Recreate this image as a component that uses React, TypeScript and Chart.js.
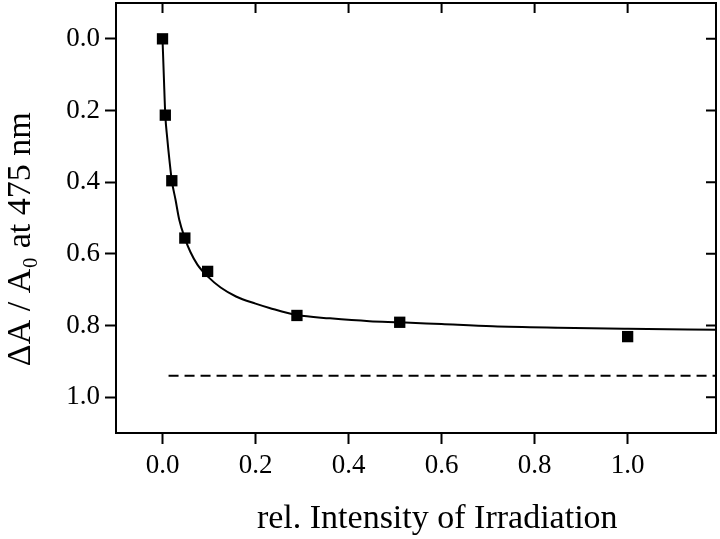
import React, { useEffect, useRef } from "react";
import { Chart, registerables } from "chart.js";

Chart.register(...registerables);

// Measured points
const pointX = [0, 0.006, 0.02, 0.048, 0.097, 0.289, 0.51, 1.0];
const pointY = [0.0, 0.213, 0.396, 0.556, 0.649, 0.772, 0.791, 0.831];

// Fitted curve
const curveX = [0, 0.003, 0.006, 0.01, 0.015, 0.02, 0.028, 0.036, 0.048, 0.06, 0.075, 0.097, 0.125, 0.158, 0.2, 0.23, 0.289, 0.36, 0.445, 0.51, 0.6, 0.71, 0.85, 1.0, 1.19];
const curveY = [0, 0.11, 0.213, 0.275, 0.34, 0.396, 0.449, 0.505, 0.556, 0.595, 0.63, 0.663, 0.694, 0.719, 0.739, 0.751, 0.771, 0.78, 0.788, 0.791, 0.796, 0.802, 0.806, 0.809, 0.812];

// Dashed limit line
const limitX = [0.013, 1.19];
const limitY = [0.94, 0.94];

// Ticks
const xTicks = [0, 0.2, 0.4, 0.6, 0.8, 1.0];
const yTicks = [0, 0.2, 0.4, 0.6, 0.8, 1.0];

const NB = "\u00A0";
const xTitle = NB.repeat(5) + "rel. Intensity of Irradiation";
const yTitle = "ΔA / A₀ at 475 nm" + NB.repeat(5);

const FONT = "'Liberation Serif', 'Times New Roman', serif";

const framePlugin = {
  id: "frame",
  afterDatasetsDraw(chart: any) {
    const { ctx, chartArea: a, scales } = chart;
    ctx.save();
    ctx.strokeStyle = "#000";
    ctx.lineWidth = 2;
    ctx.beginPath();
    ctx.moveTo(a.left, a.top);
    ctx.lineTo(a.right, a.top);
    ctx.lineTo(a.right, a.bottom);
    for (const v of xTicks) {
      const px = scales.x.getPixelForValue(v);
      ctx.moveTo(px, a.top);
      ctx.lineTo(px, a.top + 10);
    }
    for (const v of yTicks) {
      const py = scales.y.getPixelForValue(v);
      ctx.moveTo(a.right, py);
      ctx.lineTo(a.right - 10, py);
    }
    ctx.stroke();
    ctx.restore();
  },
};

export default function App() {
  const ref = useRef<HTMLCanvasElement>(null);

  useEffect(() => {
    if (!ref.current) return;
    const chart = new Chart(ref.current, {
      type: "scatter",
      data: {
        datasets: [
          {
            type: "line",
            data: curveX.map((x, i) => ({ x, y: curveY[i] })),
            borderColor: "#000",
            borderWidth: 2,
            pointRadius: 0,
            cubicInterpolationMode: "monotone",
            fill: false,
          } as any,
          {
            type: "line",
            data: limitX.map((x, i) => ({ x, y: limitY[i] })),
            borderColor: "#000",
            borderWidth: 2,
            borderDash: [10, 6],
            pointRadius: 0,
            fill: false,
          } as any,
          {
            type: "scatter",
            data: pointX.map((x, i) => ({ x, y: pointY[i] })),
            backgroundColor: "#000",
            borderColor: "#000",
            borderWidth: 0,
            pointStyle: "rect",
            pointRadius: 8,
          } as any,
        ],
      },
      options: {
        animation: false,
        responsive: false,
        maintainAspectRatio: false,
        layout: { autoPadding: false, padding: { top: 3, right: 4, left: 0, bottom: 0 } },
        plugins: { legend: { display: false }, tooltip: { enabled: false } },
        scales: {
          x: {
            type: "linear",
            min: -0.1,
            max: 1.19,
            afterFit: (s: any) => {
              s.height = 106;
              s.paddingLeft = 0;
              s.paddingRight = 0;
            },
            afterBuildTicks: (s: any) => {
              s.ticks = xTicks.map((v) => ({ value: v }));
            },
            grid: {
              drawOnChartArea: false,
              tickLength: 11,
              tickWidth: 2,
              tickColor: "#000",
            },
            border: { display: true, color: "#000", width: 2 },
            ticks: {
              color: "#000",
              font: { family: FONT, size: 27 },
              padding: 6,
              maxRotation: 0,
              callback: (v: any) => Number(v).toFixed(1),
            },
            title: {
              display: true,
              text: xTitle,
              color: "#000",
              font: { family: FONT, size: 34 },
              padding: { top: 0, bottom: 0 },
            },
          },
          y: {
            type: "linear",
            reverse: true,
            min: -0.1,
            max: 1.1,
            afterFit: (s: any) => {
              s.width = 116;
              s.paddingTop = 0;
              s.paddingBottom = 0;
            },
            afterBuildTicks: (s: any) => {
              s.ticks = yTicks.map((v) => ({ value: v }));
            },
            grid: {
              drawOnChartArea: false,
              tickLength: 11,
              tickWidth: 2,
              tickColor: "#000",
            },
            border: { display: true, color: "#000", width: 2 },
            ticks: {
              color: "#000",
              font: { family: FONT, size: 27 },
              padding: 5,
              callback: (v: any) => Number(v).toFixed(1),
            },
            title: {
              display: true,
              text: yTitle,
              color: "#000",
              font: { family: FONT, size: 34 },
              padding: { top: 1, bottom: 0 },
            },
          },
        },
      },
      plugins: [framePlugin],
    });
    return () => chart.destroy();
  }, []);

  return (
    <div style={{ position: "absolute", left: 0, top: 0, width: 720, height: 539, background: "#fff" }}>
      <canvas ref={ref} width={720} height={539} style={{ display: "block" }} />
    </div>
  );
}
